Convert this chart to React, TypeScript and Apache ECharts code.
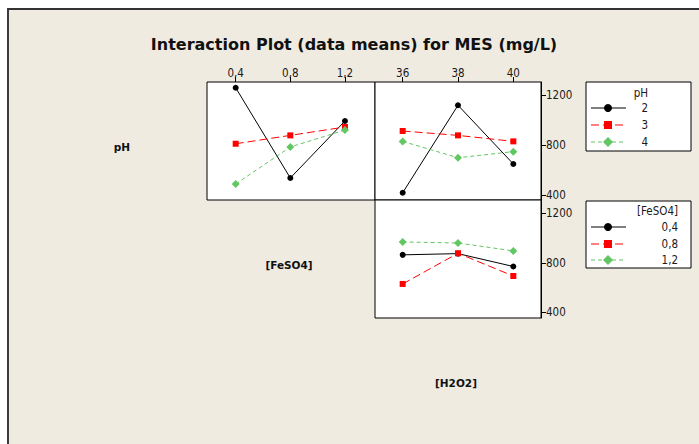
import React, { useEffect, useRef } from 'react';
import * as echarts from 'echarts';

const titleText = 'Interaction Plot (data means) for MES (mg/L)';
const feso4Levels = [0.4, 0.8, 1.2];
const feso4TickLabels = ['0,4', '0,8', '1,2'];
const h2o2Levels = [36, 38, 40];
const h2o2TickLabels = ['36', '38', '40'];
const mesTicks = [400, 800, 1200];
const mesTickLabels = ['400', '800', '1200'];
const phNames = ['2', '3', '4'];
const feso4Names = ['0,4', '0,8', '1,2'];

// pH lines vs [FeSO4]
const phVsFeso4_pH2 = [1258, 536, 992];
const phVsFeso4_pH3 = [810, 877, 944];
const phVsFeso4_pH4 = [488, 784, 920];
// pH lines vs [H2O2]
const phVsH2o2_pH2 = [418, 1118, 648];
const phVsH2o2_pH3 = [912, 877, 829];
const phVsH2o2_pH4 = [829, 698, 747];
// [FeSO4] lines vs [H2O2]
const feso4VsH2o2_04 = [864, 874, 770];
const feso4VsH2o2_08 = [629, 877, 693];
const feso4VsH2o2_12 = [968, 960, 896];

const FONT = "'DejaVu Sans Condensed', 'DejaVu Sans', sans-serif";
const BOLD_FONT = "'DejaVu Sans', sans-serif";

const lineStyles = [
  { color: '#000000', symbol: 'circle', size: 6, dash: 'solid' as any },
  { color: '#FF0000', symbol: 'rect', size: 6, dash: [8, 4] as any },
  { color: '#62C662', symbol: 'diamond', size: 8, dash: [4, 3] as any },
];

function mkSeries(name: string, xs: number[], ys: number[], axis: number, s: number) {
  const st = lineStyles[s];
  return {
    name,
    type: 'line',
    xAxisIndex: axis,
    yAxisIndex: axis,
    data: xs.map((x, i) => [x, ys[i]]),
    symbol: st.symbol,
    symbolSize: st.size,
    showSymbol: true,
    lineStyle: { color: st.color, width: 1, type: st.dash },
    itemStyle: { color: st.color },
    emphasis: { disabled: true },
    z: 3 + s,
  };
}

function labelFor(levels: number[], labels: string[]) {
  return (v: number) => {
    const i = levels.findIndex((l) => Math.abs(l - v) < 1e-6);
    return i >= 0 ? labels[i] : '';
  };
}

function topXAxis(grid: number, min: number, max: number, levels: number[], labels: string[]) {
  return {
    gridIndex: grid,
    type: 'value',
    position: 'top',
    min,
    max,
    splitLine: { show: false },
    axisLine: { show: false },
    axisTick: { show: true, customValues: levels, length: 5, lineStyle: { color: '#000', width: 1 } },
    axisLabel: {
      show: true,
      customValues: levels,
      formatter: labelFor(levels, labels),
      margin: 3,
      fontSize: 11.5,
      color: '#1a1a1a',
      fontFamily: FONT,
    },
  };
}

function rightYAxis(grid: number, min: number, max: number) {
  return {
    gridIndex: grid,
    type: 'value',
    position: 'right',
    min,
    max,
    splitLine: { show: false },
    axisLine: { show: true, lineStyle: { color: '#000', width: 1 } },
    axisTick: { show: true, customValues: mesTicks, length: 5, lineStyle: { color: '#000', width: 1 } },
    axisLabel: {
      show: true,
      customValues: mesTicks,
      formatter: labelFor(mesTicks, mesTickLabels),
      margin: 5,
      fontSize: 11.5,
      color: '#1a1a1a',
      fontFamily: FONT,
    },
  };
}

function legendGraphic(x: number, y: number, h: number, title: string, names: string[], textRight: number, rowYs: number[], titleY: number) {
  const children: any[] = [
    { type: 'rect', shape: { x, y, width: 105, height: h }, style: { fill: '#fff', stroke: '#000', lineWidth: 1 } },
    {
      type: 'text',
      x: textRight,
      y: titleY,
      style: { text: title, fill: '#1a1a1a', font: `11.5px ${FONT}`, textAlign: 'right', textVerticalAlign: 'middle' },
    },
  ];
  names.forEach((n, i) => {
    const st = lineStyles[i];
    const ry = rowYs[i];
    children.push({
      type: 'line',
      shape: { x1: x + 5, y1: ry, x2: x + 40, y2: ry },
      style: { stroke: st.color, lineWidth: 1, lineDash: st.dash === 'solid' ? null : st.dash },
    });
    const cx = x + 22;
    if (st.symbol === 'circle') {
      children.push({ type: 'circle', shape: { cx, cy: ry, r: 4 }, style: { fill: st.color } });
    } else if (st.symbol === 'rect') {
      children.push({ type: 'rect', shape: { x: cx - 4, y: ry - 4, width: 8, height: 8 }, style: { fill: st.color } });
    } else {
      children.push({
        type: 'polygon',
        shape: { points: [[cx, ry - 5], [cx + 5, ry], [cx, ry + 5], [cx - 5, ry]] },
        style: { fill: st.color },
      });
    }
    children.push({
      type: 'text',
      x: textRight,
      y: ry,
      style: { text: n, fill: '#1a1a1a', font: `11.5px ${FONT}`, textAlign: 'right', textVerticalAlign: 'middle' },
    });
  });
  return { type: 'group', children };
}

const option: any = {
  animation: false,
  backgroundColor: 'transparent',
  grid: [
    { left: 207, top: 82, width: 168, height: 118, show: true, borderColor: '#000', borderWidth: 1, backgroundColor: '#fff', containLabel: false },
    { left: 375, top: 82, width: 166, height: 118, show: true, borderColor: '#000', borderWidth: 1, backgroundColor: '#fff', containLabel: false },
    { left: 375, top: 200, width: 166, height: 118, show: true, borderColor: '#000', borderWidth: 1, backgroundColor: '#fff', containLabel: false },
  ],
  xAxis: [
    topXAxis(0, 0.19, 1.42, feso4Levels, feso4TickLabels),
    topXAxis(1, 35, 41, h2o2Levels, h2o2TickLabels),
    { gridIndex: 2, type: 'value', min: 35, max: 41, show: false },
  ],
  yAxis: [
    { gridIndex: 0, type: 'value', min: 360, max: 1304, show: false },
    rightYAxis(1, 360, 1304),
    rightYAxis(2, 354, 1307),
  ],
  series: [
    mkSeries('pH 2', feso4Levels, phVsFeso4_pH2, 0, 0),
    mkSeries('pH 3', feso4Levels, phVsFeso4_pH3, 0, 1),
    mkSeries('pH 4', feso4Levels, phVsFeso4_pH4, 0, 2),
    mkSeries('pH 2', h2o2Levels, phVsH2o2_pH2, 1, 0),
    mkSeries('pH 3', h2o2Levels, phVsH2o2_pH3, 1, 1),
    mkSeries('pH 4', h2o2Levels, phVsH2o2_pH4, 1, 2),
    mkSeries('[FeSO4] 0,4', h2o2Levels, feso4VsH2o2_04, 2, 0),
    mkSeries('[FeSO4] 0,8', h2o2Levels, feso4VsH2o2_08, 2, 1),
    mkSeries('[FeSO4] 1,2', h2o2Levels, feso4VsH2o2_12, 2, 2),
  ],
  graphic: [
    {
      type: 'text',
      x: 354,
      y: 44,
      style: { text: titleText, fill: '#111', font: `bold 16px ${BOLD_FONT}`, textAlign: 'center', textVerticalAlign: 'middle' },
    },
    { type: 'text', x: 122, y: 147, style: { text: 'pH', fill: '#111', font: `bold 10.5px ${BOLD_FONT}`, textAlign: 'center', textVerticalAlign: 'middle' } },
    { type: 'text', x: 289, y: 265, style: { text: '[FeSO4]', fill: '#111', font: `bold 10.5px ${BOLD_FONT}`, textAlign: 'center', textVerticalAlign: 'middle' } },
    { type: 'text', x: 456, y: 383, style: { text: '[H2O2]', fill: '#111', font: `bold 10.5px ${BOLD_FONT}`, textAlign: 'center', textVerticalAlign: 'middle' } },
    legendGraphic(586, 82, 69, 'pH', phNames, 648, [108, 125, 142], 93),
    legendGraphic(586, 201, 67, '[FeSO4]', feso4Names, 678, [227, 244, 260], 211),
  ],
};

export default function App() {
  const ref = useRef<HTMLDivElement>(null);
  useEffect(() => {
    const chart = echarts.init(ref.current!, null, { renderer: 'svg' });
    chart.setOption(option);
    return () => chart.dispose();
  }, []);
  return (
    <div style={{ position: 'absolute', left: 0, top: 0, width: 699, height: 444, background: '#fff', overflow: 'hidden' }}>
      <div
        style={{
          position: 'absolute',
          left: 7,
          top: 8,
          width: 692,
          height: 436,
          background: '#EFEBE1',
          borderTop: '2px solid #333',
          borderLeft: '2px solid #3c3c3c',
          boxSizing: 'border-box',
        }}
      />
      <div ref={ref} style={{ position: 'absolute', left: 0, top: 0, width: 699, height: 444 }} />
    </div>
  );
}
